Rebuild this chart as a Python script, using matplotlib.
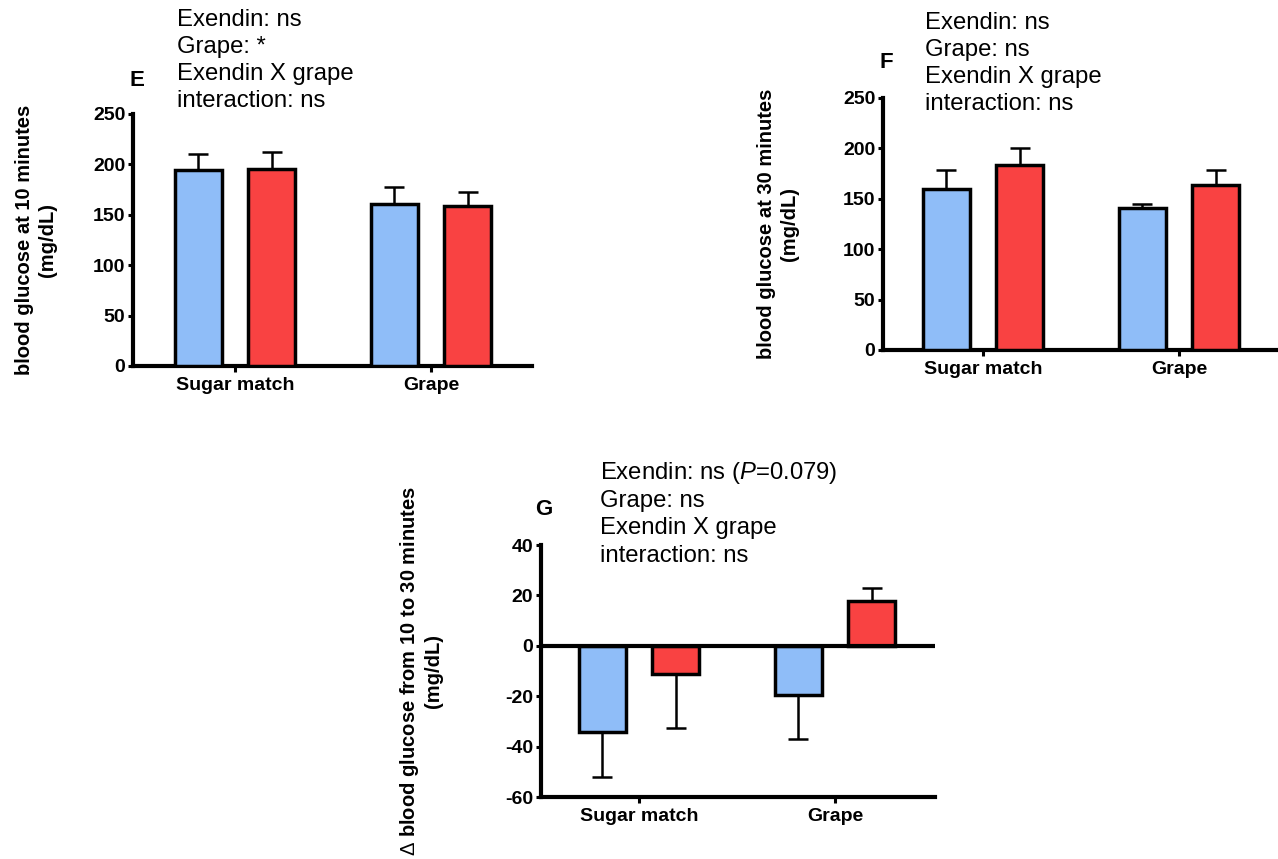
import matplotlib
matplotlib.use("Agg")
import matplotlib.pyplot as plt
import numpy as np

plt.rcParams['font.family'] = ['Liberation Sans', 'DejaVu Sans']
plt.rcParams['axes.unicode_minus'] = False
plt.rcParams['mathtext.fontset'] = 'custom'
plt.rcParams['mathtext.rm'] = 'Liberation Sans'
plt.rcParams['mathtext.it'] = 'Liberation Sans:italic'
plt.rcParams['mathtext.bf'] = 'Liberation Sans:bold'

# ---------------- data ----------------
categories = ["Sugar match", "Grape"]
series_names = ["Vehicle", "Exendin"]
colors = ["#8fbdf8", "#f94242"]

e_means = [[194.4, 160.3], [195.0, 158.6]]
e_err = [[16.0, 17.5], [17.5, 13.6]]

f_means = [[160.2, 140.4], [184.0, 163.5]]
f_err = [[18.1, 4.9], [16.8, 15.5]]

g_means = [[-34.4, -19.6], [-11.0, 17.7]]
g_err = [[17.6, 17.5], [21.8, 5.3]]

e_ticks = [0, 50, 100, 150, 200, 250]
f_ticks = [0, 50, 100, 150, 200, 250]
g_ticks = [-60, -40, -20, 0, 20, 40]

e_text = ["Exendin: ns", "Grape: *", "Exendin X grape", "interaction: ns"]
f_text = ["Exendin: ns", "Grape: ns", "Exendin X grape", "interaction: ns"]
g_text = [r"Exendin: ns ($\it{P}$=0.079)", "Grape: ns", "Exendin X grape", "interaction: ns"]

e_ylabel = "blood glucose at 10 minutes\n(mg/dL)"
f_ylabel = "blood glucose at 30 minutes\n(mg/dL)"
g_ylabel = "$\\Delta$ blood glucose from 10 to 30 minutes\n(mg/dL)"

# ---------------- figure ----------------
W, H = 1278, 859
fig = plt.figure(figsize=(W / 100, H / 100), dpi=100)


def px_axes(left, right, bottom, top):
    return fig.add_axes([left / W, 1 - bottom / H, (right - left) / W, (bottom - top) / H])


def panel(ax, means, errs, ticks, xlim):
    x = np.arange(len(categories))
    offs = [-0.187, 0.187]
    for i in range(len(series_names)):
        m = np.array(means[i])
        e = np.array(errs[i])
        lower = np.where(m < 0, e, 0)
        upper = np.where(m >= 0, e, 0)
        ax.errorbar(x + offs[i], m, yerr=[lower, upper], fmt='none', ecolor='black',
                    elinewidth=1.8, capsize=7.5, capthick=1.8, zorder=2)
        ax.bar(x + offs[i], m, width=0.24, color=colors[i], edgecolor='black',
               linewidth=2.5, zorder=3)
    ax.set_xlim(*xlim)
    ax.set_ylim(ticks[0], ticks[-1])
    ax.set_yticks(ticks)
    ax.set_xticks(x)
    ax.set_xticklabels(categories)
    for s in ['top', 'right']:
        ax.spines[s].set_visible(False)
    for s in ['left', 'bottom']:
        ax.spines[s].set_linewidth(3.0)
    ax.tick_params(axis='y', direction='out', length=3.5, width=2.2, pad=2,
                   labelsize=14)
    ax.tick_params(axis='x', direction='out', length=4.5, width=2.2, pad=3.5,
                   labelsize=14)
    for lab in ax.get_xticklabels() + ax.get_yticklabels():
        lab.set_fontweight('bold')


axE = px_axes(133, 532, 366, 114)
panel(axE, e_means, e_err, e_ticks, (-0.52, 1.516))

axF = px_axes(883, 1280, 350, 98)
panel(axF, f_means, f_err, f_ticks, (-0.51, 1.515))

axG = px_axes(541, 935, 797, 545)
panel(axG, g_means, g_err, g_ticks, (-0.50, 1.51))
axG.axhline(0, color='black', lw=3.0, zorder=4)


def ftext(x, y, s, **kw):
    fig.text(x / W, 1 - y / H, s, **kw)


# annotations
for txt, x0, bases in [(e_text, 177, [26, 53, 80, 107]),
                       (f_text, 925, [29, 56, 83, 110]),
                       (g_text, 600, [479, 507, 534, 562])]:
    for s, b in zip(txt, bases):
        ftext(x0, b, s, fontsize=17.2, ha='left', va='baseline')

# panel letters
ftext(137, 86, "E", fontsize=16, fontweight='bold', ha='center', va='baseline')
ftext(886, 68, "F", fontsize=16, fontweight='bold', ha='center', va='baseline')
ftext(544, 515, "G", fontsize=16, fontweight='bold', ha='center', va='baseline')

# y labels
ftext(36, 240, e_ylabel, fontsize=14.5, fontweight='bold', rotation=90,
      ha='center', va='center', multialignment='center')
ftext(778, 224, f_ylabel, fontsize=14.5, fontweight='bold', rotation=90,
      ha='center', va='center', multialignment='center')
ftext(420, 671, g_ylabel, fontsize=14.5, fontweight='bold', rotation=90,
      ha='center', va='center', multialignment='center')

fig.savefig("out.png", dpi=100)
